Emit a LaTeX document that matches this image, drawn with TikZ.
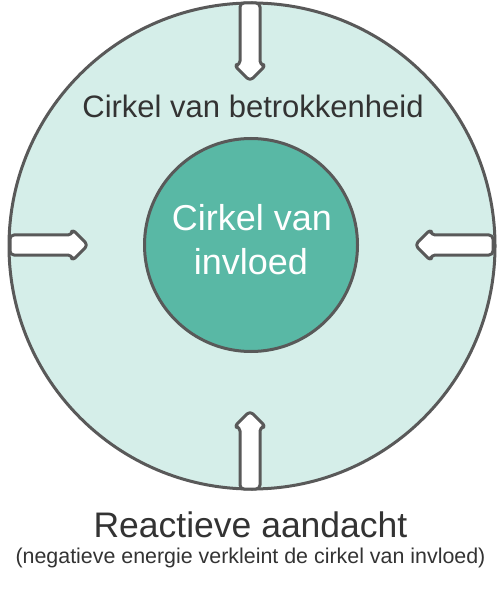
\documentclass[tikz,border=0pt]{standalone}
\usepackage{fontspec}
\setmainfont{Liberation Sans}
\definecolor{outerfill}{HTML}{D5EEE9}
\definecolor{innerfill}{HTML}{59B8A5}
\definecolor{strokegray}{HTML}{595959}
\definecolor{textgray}{HTML}{333333}
\tikzset{
  circ/.style={draw=strokegray, line width=3pt},
  arrowshape/.style={draw=strokegray, fill=white, line width=3pt, rounded corners=4pt, line join=round},
  lbl/.style={text=textgray, inner sep=0pt, anchor=base}
}
\begin{document}
\begin{tikzpicture}[x=1pt,y=-1pt]
\useasboundingbox (0,0) rectangle (500,601);
\fill[white] (0,0) rectangle (500,601);
% outer circle
\draw[circ, fill=outerfill] (252,246) circle[radius=243];
\coordinate (ctop) at (250,3);
\coordinate (cleft) at (10,245);
\coordinate (cright) at (493,245);
\coordinate (cbot) at (250,489);
% arrows
\foreach \c/\a in {ctop/-90, cleft/0, cright/180, cbot/90}{
  \draw[arrowshape, shift={(\c)}, rotate=\a]
    (0,-10) -- (62,-10) -- (62,-16) -- (78,0) -- (62,16) -- (62,10) -- (0,10) -- cycle;
}
% inner circle
\node[circ, fill=innerfill, circle, minimum size=213pt, inner sep=0pt] (inner) at (251,245) {};
\node[lbl, text=white, font=\fontsize{36}{36}\selectfont] (in1) at (252,231) {Cirkel van};
\node[lbl, text=white, font=\fontsize{36}{36}\selectfont] (in2) at (251,274) {invloed};
\node[lbl, font=\fontsize{31}{31}\selectfont] (betr) at (253,118) {Cirkel van betrokkenheid};
\node[lbl, font=\fontsize{35.5}{35.5}\selectfont] (react) at (250.5,537) {Reactieve aandacht};
\node[lbl, font=\fontsize{21.4}{21.4}\selectfont] (sub) at (250.5,563) {(negatieve energie verkleint de cirkel van invloed)};
\end{tikzpicture}
\end{document}
